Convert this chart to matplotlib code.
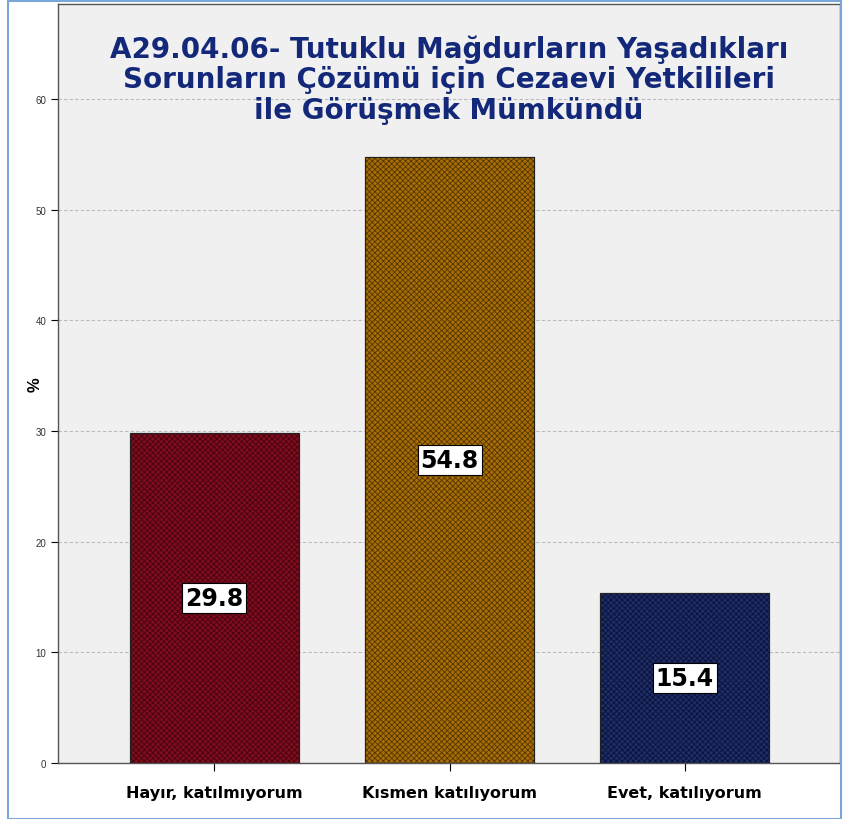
import matplotlib as mpl
mpl.use('Agg')
import matplotlib.pyplot as plt
from matplotlib.patches import Rectangle

categories = ['Hayır, katılmıyorum', 'Kısmen katılıyorum', 'Evet, katılıyorum']
values = [29.8, 54.8, 15.4]
bar_colors = ['#800c1e', '#a86e06', '#1e2c68']
hatch_colors = ['#440410', '#553400', '#0a1236']
yticks = [0, 10, 20, 30, 40, 50, 60]
title = ('A29.04.06- Tutuklu Mağdurların Yaşadıkları\n'
         'Sorunların Çözümü için Cezaevi Yetkilileri\n'
         'ile Görüşmek Mümkündü')

plt.rcParams['font.family'] = ['Liberation Sans', 'DejaVu Sans']
plt.rcParams['hatch.linewidth'] = 0.6
wide = ['DejaVu Sans']

fig = plt.figure(figsize=(8.43, 8.20), dpi=100)
fig.patch.set_facecolor('white')
# thin blue frame around the whole picture
fig.add_artist(Rectangle((0.010, 0.0), 0.988, 0.998, transform=fig.transFigure,
                         fill=False, edgecolor='#7aa6d8', linewidth=1.5))

ax = fig.add_axes([58 / 843, 1 - 764 / 820, (840 - 58) / 843, (764 - 5) / 820])
ax.set_facecolor('#f0f0f0')

x = list(range(len(categories)))
ax.bar(x, values, width=0.72, color=bar_colors, edgecolor='#222222', linewidth=0.8, zorder=2)
for xi, v, hc in zip(x, values, hatch_colors):
    ax.bar(xi, v, width=0.72, fill=False, hatch='xxxxxx', edgecolor=hc, linewidth=0, zorder=3)
    ax.text(xi, v / 2, f'{v:.1f}', ha='center', va='center', fontsize=17, fontweight='bold',
            family=wide, zorder=5,
            bbox=dict(boxstyle='square,pad=0.12', facecolor='white', edgecolor='black', linewidth=0.8))
ax.bar(x, values, width=0.72, fill=False, edgecolor='#222222', linewidth=0.8, zorder=4)

ax.set_xlim(-0.665, 2.66)
ax.set_ylim(0, 68.6)
ax.set_yticks(yticks)
ax.tick_params(axis='y', labelsize=7, length=5, labelcolor='#333333')
ax.tick_params(axis='x', length=6, pad=10)
ax.set_xticks(x)
ax.set_xticklabels(categories, fontsize=11.5, fontweight='bold', family=wide)
ax.yaxis.grid(True, linestyle=(0, (3, 2)), color='#bbbbbb', linewidth=0.8, zorder=1)
ax.set_axisbelow(True)
for s in ax.spines.values():
    s.set_color('#555555')
    s.set_linewidth(1.0)
ax.set_ylabel('%', fontsize=12, fontweight='bold', va='center')
ax.yaxis.set_label_coords(-0.029, 0.5)

ax.text(0.5, 0.960, title, transform=ax.transAxes, ha='center', va='top',
        fontsize=20, fontweight='bold', color='#14287a', linespacing=1.12, family=wide)

fig.savefig('out.png', dpi=100)
